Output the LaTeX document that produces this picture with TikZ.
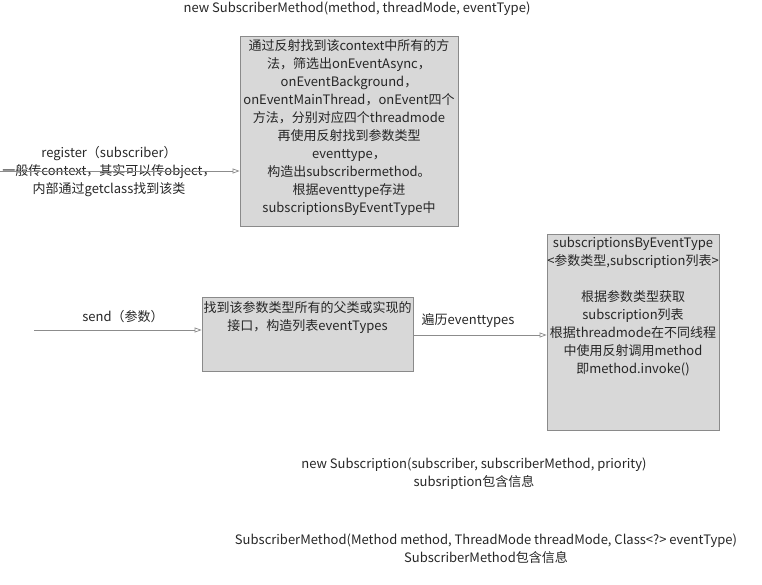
\documentclass[tikz,border=0pt]{standalone}
\usepackage{fontspec}
\setmainfont{Noto Sans CJK SC}
\usetikzlibrary{arrows.meta}
\definecolor{boxfill}{HTML}{D8D8D8}
\definecolor{boxline}{HTML}{8A8A8A}
\definecolor{arrline}{HTML}{8C8C8C}
\tikzset{
  box/.style={draw=boxline, fill=boxfill, line width=0.8pt, inner sep=0pt},
  txt/.style={align=center, inner sep=0pt, font=\fontsize{13}{18}\selectfont, text=black!85},
  conn/.style={draw=arrline, line width=0.7pt, -{Triangle[open, length=7pt, width=5pt]}},
}
\begin{document}
\begin{tikzpicture}[x=1pt,y=-1pt]
\useasboundingbox (0,0) rectangle (762,585);
% top label
\node[txt] (topl) at (357,9) {new SubscriberMethod(method, threadMode, eventType)};
% box 1
\node[box, minimum width=218pt, minimum height=190pt] (b1) at (349,131) {};
\node[txt, anchor=north] (b1t) at (349,39) {通过反射找到该context中所有的方\\法，筛选出onEventAsync，\\onEventBackground，\\onEventMainThread，onEvent四个\\方法，分别对应四个threadmode\\再使用反射找到参数类型\\eventtype，\\构造出subscribermethod。\\根据eventtype存进\\subscriptionsByEventType中};
% register arrow
\coordinate (rs) at (0,171);
\node[txt] (regl) at (109,172) {register（subscriber）\\一般传context，其实可以传object，\\内部通过getclass找到该类};
\draw[conn] (rs) -- (rs -| b1.west);
% box 2
\node[box, minimum width=211pt, minimum height=74pt] (b2) at (307.5,334) {};
\node[txt, anchor=north] (b2t) at (307.5,301) {找到该参数类型所有的父类或实现的\\接口，构造列表eventTypes};
% send arrow
\coordinate (ss) at (34,330);
\draw[conn] (ss) -- (ss -| b2.west);
\node[txt] (sendl) at (123,317) {send（参数）};
% box 3
\node[box, minimum width=172pt, minimum height=196pt] (b3) at (633,332) {};
\node[txt, anchor=north] (b3t) at (633,237) {subscriptionsByEventType\\<参数类型,subscription列表>\\[18pt]根据参数类型获取\\subscription列表\\根据threadmode在不同线程\\中使用反射调用method\\即method.invoke()};
% traverse arrow
\coordinate (ts) at (413,335);
\draw[conn] (ts) -- (ts -| b3.west);
\node[txt] (travl) at (468,321) {遍历eventtypes};
% bottom notes
\node[txt] (n1) at (474,474) {new Subscription(subscriber, subscriberMethod, priority)\\subsription包含信息};
\node[txt] (n2) at (486,549) {SubscriberMethod(Method method, ThreadMode threadMode, Class<?> eventType)\\SubscriberMethod包含信息};
\end{tikzpicture}
\end{document}
